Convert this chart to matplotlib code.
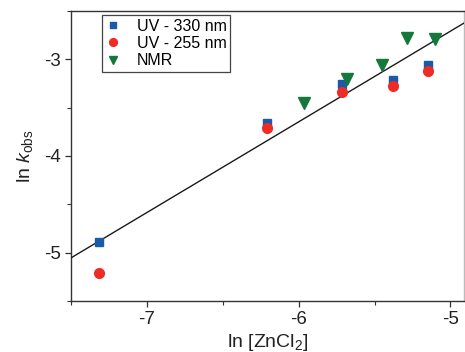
import matplotlib
matplotlib.use("Agg")
import matplotlib.pyplot as plt
import numpy as np
from matplotlib.ticker import MultipleLocator, FuncFormatter

plt.rcParams['font.family'] = ['Liberation Sans', 'DejaVu Sans']
plt.rcParams['mathtext.fontset'] = 'custom'
plt.rcParams['mathtext.rm'] = 'Liberation Sans'
plt.rcParams['mathtext.it'] = 'Liberation Sans:italic'

# Data
uv330_x = [-7.314, -6.211, -5.713, -5.380, -5.147]
uv330_y = [-4.894, -3.663, -3.258, -3.209, -3.059]
uv255_x = [-7.314, -6.211, -5.713, -5.380, -5.147]
uv255_y = [-5.210, -3.708, -3.337, -3.271, -3.124]
nmr_x = [-5.965, -5.680, -5.454, -5.289, -5.103]
nmr_y = [-3.457, -3.206, -3.062, -2.776, -2.794]
fit_slope = 0.938
fit_intercept = 1.981
fit_range = [-7.5, -4.9]

fig = plt.figure(figsize=(4.65, 3.52), dpi=100)
ax = fig.add_axes([0.1527, 0.1449, 0.8453, 0.8239])

xs = np.array(fit_range)
ax.plot(xs, fit_slope * xs + fit_intercept, color='#1a1a1a', lw=1.0, zorder=3)

ax.plot(uv330_x, uv330_y, 's', color='#1a5aa8', ms=6, label='UV - 330 nm', zorder=4)
ax.plot(uv255_x, uv255_y, 'o', color='#ee2b24', ms=7, label='UV - 255 nm', zorder=5)
ax.plot(nmr_x, nmr_y, 'v', color='#14783c', ms=8, label='NMR', zorder=4)

ax.set_xlim(-7.5, -4.91)
ax.set_ylim(-5.5, -2.5)
ax.xaxis.set_major_locator(MultipleLocator(1))
ax.xaxis.set_minor_locator(MultipleLocator(0.5))
ax.yaxis.set_major_locator(MultipleLocator(1))
ax.yaxis.set_minor_locator(MultipleLocator(0.5))
ax.tick_params(which='major', direction='out', length=4, width=0.9, labelsize=13.5,
               color='#333333', labelcolor='#222222', pad=3)
ax.tick_params(which='minor', direction='out', length=3, width=0.8, color='#333333')
ax.xaxis.set_major_formatter(FuncFormatter(lambda v, p: f"{int(round(v))}"))
ax.yaxis.set_major_formatter(FuncFormatter(lambda v, p: f"{int(round(v))}"))

for s in ['left', 'bottom', 'top']:
    ax.spines[s].set_color('#333333')
    ax.spines[s].set_linewidth(1.0)
ax.spines['right'].set_color('#bbbbbb')
ax.spines['right'].set_linewidth(1.0)

ax.set_xlabel('ln [ZnCl$_2$]', fontsize=14, labelpad=3, color='#222222')
ax.set_ylabel('ln $k_{\\mathrm{obs}}$', fontsize=14, labelpad=7, color='#222222')

leg = ax.legend(loc='upper left', bbox_to_anchor=(0.078, 0.985), fontsize=11.5,
                frameon=True, fancybox=False, edgecolor='#444444', framealpha=1,
                handlelength=1.0, handletextpad=1.0, borderpad=0.2,
                labelspacing=0.15, borderaxespad=0, markerscale=0.8)
leg.get_frame().set_linewidth(0.9)

fig.savefig('out.png', dpi=100)
